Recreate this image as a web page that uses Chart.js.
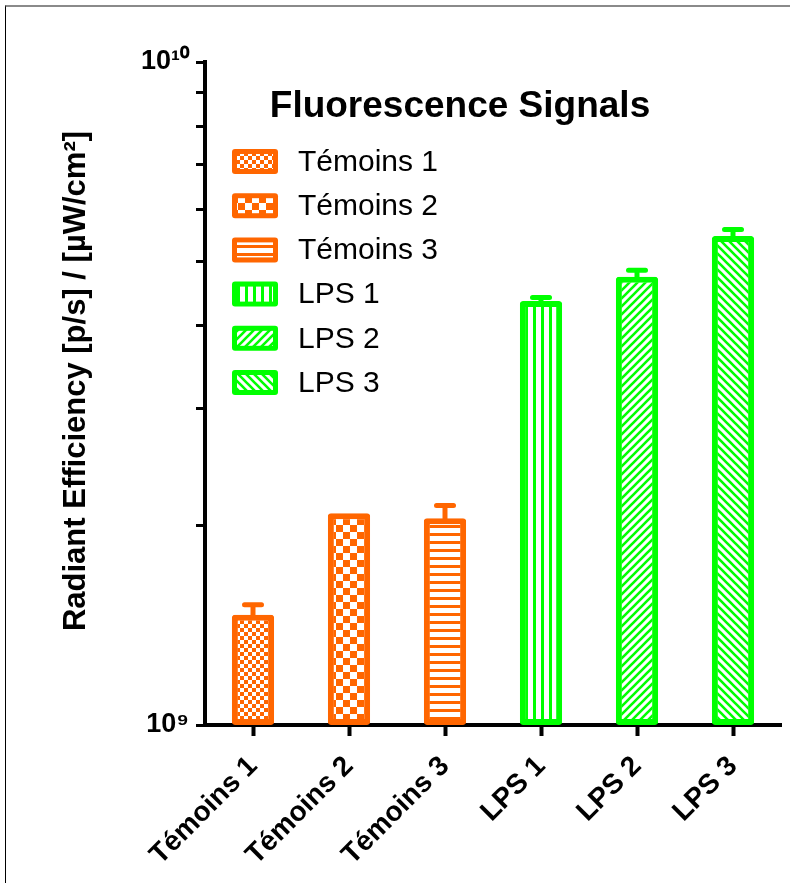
<!DOCTYPE html>
<html><head><meta charset="utf-8">
<script src="https://cdn.jsdelivr.net/npm/chart.js@4"></script>
<style>
html,body{margin:0;padding:0;background:#fff;}
#wrap{position:relative;width:790px;height:883px;overflow:hidden;}
canvas{position:absolute;left:0;top:0;}
#frame{position:absolute;left:5px;top:5px;width:800px;height:900px;border-top:2px solid #8a8a8a;border-left:1px solid #000;box-sizing:border-box;pointer-events:none;}
</style></head>
<body><div id="wrap"><canvas id="c" width="790" height="883"></canvas><div id="frame"></div></div>
<script>
const categories = ['Témoins 1','Témoins 2','Témoins 3','LPS 1','LPS 2','LPS 3'];
const values = [1.466e9, 2.086e9, 2.050e9, 4.36e9, 4.745e9, 5.466e9];
const errors = [0.053e9, 0, 0.093e9, 0.055e9, 0.105e9, 0.124e9];
const groupColors = ['#FF6600','#FF6600','#FF6600','#00FF00','#00FF00','#00FF00'];
const patternKinds = ['checkSmall','checkLarge','hlines','vlines','fdiag','bdiag'];
const yTickValues = [1e9, 2e9, 3e9, 4e9, 5e9, 6e9, 7e9, 8e9, 9e9, 1e10];
const yTickLabels = {9:'10⁹', 10:'10¹⁰'};
const yMin = 1e9, yMax = 1e10;
const chartTitle = 'Fluorescence Signals';
const yTitle = 'Radiant Efficiency [p/s] / [µW/cm²]';

function makePattern(kind, color){
  const c = document.createElement('canvas');
  let s = 8;
  if (kind === 'checkLarge') s = 14;
  c.width = s; c.height = s;
  const g = c.getContext('2d');
  g.fillStyle = '#fff'; g.fillRect(0,0,s,s);
  g.fillStyle = color; g.strokeStyle = color;
  if (kind === 'checkSmall' || kind === 'checkLarge'){
    const h = s/2; g.fillRect(h,0,h,h); g.fillRect(0,h,h,h);
  } else if (kind === 'hlines'){
    g.fillRect(0,5,s,3);
  } else if (kind === 'vlines'){
    g.fillRect(5,0,3,s);
  } else {
    g.lineWidth = 2.6;
    g.beginPath();
    if (kind === 'fdiag'){
      g.moveTo(-2,s+2); g.lineTo(s+2,-2);
      g.moveTo(-2,2); g.lineTo(2,-2);
      g.moveTo(s-2,s+2); g.lineTo(s+2,s-2);
    } else {
      g.moveTo(-2,-2); g.lineTo(s+2,s+2);
      g.moveTo(-2,s-2); g.lineTo(2,s+2);
      g.moveTo(s-2,-2); g.lineTo(s+2,2);
    }
    g.stroke();
  }
  return document.getElementById('c').getContext('2d').createPattern(c,'repeat');
}
const patterns = patternKinds.map((k,i)=>makePattern(k, groupColors[i]));

function rrect(ctx,x,y,w,h,r){
  ctx.beginPath();
  ctx.moveTo(x+r,y); ctx.lineTo(x+w-r,y); ctx.quadraticCurveTo(x+w,y,x+w,y+r);
  ctx.lineTo(x+w,y+h-r); ctx.quadraticCurveTo(x+w,y+h,x+w-r,y+h);
  ctx.lineTo(x+r,y+h); ctx.quadraticCurveTo(x,y+h,x,y+h-r);
  ctx.lineTo(x,y+r); ctx.quadraticCurveTo(x,y,x+r,y); ctx.closePath();
}

const decor = {
  id: 'decor',
  afterDatasetsDraw(chart){
    const ctx = chart.ctx, ys = chart.scales.y, meta = chart.getDatasetMeta(0);
    ctx.save();
    meta.data.forEach((bar,i)=>{
      if (!errors[i]) return;
      const top = ys.getPixelForValue(values[i]+errors[i]);
      ctx.strokeStyle = groupColors[i];
      ctx.lineWidth = 5; ctx.lineCap = 'butt';
      ctx.beginPath(); ctx.moveTo(bar.x, bar.y+3); ctx.lineTo(bar.x, top); ctx.stroke();
      ctx.lineCap = 'round';
      ctx.beginPath(); ctx.moveTo(bar.x-8.5, top); ctx.lineTo(bar.x+8.5, top); ctx.stroke();
    });
    ctx.restore();
  },
  afterDraw(chart){
    const ctx = chart.ctx, a = chart.chartArea;
    ctx.save();
    // title
    ctx.fillStyle = '#000';
    ctx.font = 'bold 37px "Liberation Sans", Arial, sans-serif';
    ctx.textAlign = 'center'; ctx.textBaseline = 'alphabetic';
    ctx.fillText(chartTitle, 460, 117);
    // legend
    ctx.font = '30px "Liberation Sans", Arial, sans-serif';
    ctx.textAlign = 'left'; ctx.textBaseline = 'middle';
    categories.forEach((cat,i)=>{
      const bx = a.left + 27, by = a.top + 87 + i*44.2;
      ctx.fillStyle = groupColors[i];
      rrect(ctx,bx,by,46,25,3); ctx.fill();
      ctx.fillStyle = patterns[i];
      ctx.fillRect(bx+5,by+5,36,15);
      ctx.fillStyle = '#000';
      ctx.fillText(cat, 298, by+13.5);
    });
    // y title
    ctx.translate(85, 381);
    ctx.rotate(-Math.PI/2);
    ctx.font = 'bold 31px "Liberation Sans", Arial, sans-serif';
    ctx.textAlign = 'center'; ctx.textBaseline = 'alphabetic';
    ctx.fillText(yTitle, 0, 0);
    ctx.restore();
  }
};

new Chart(document.getElementById('c'), {
  type: 'bar',
  data: {
    labels: categories,
    datasets: [{
      data: values,
      backgroundColor: patterns,
      borderColor: groupColors,
      borderWidth: 6,
      borderRadius: 3,
      borderSkipped: false,
      barPercentage: 0.44,
      categoryPercentage: 1
    }]
  },
  options: {
    responsive: false,
    animation: false,
    events: [],
    layout: { padding: { top: 62, right: 9, left: 0, bottom: 0 } },
    plugins: { legend: { display: false }, tooltip: { enabled: false }, title: { display: false } },
    scales: {
      x: {
        afterFit: s => { s.height = 158; },
        grid: { display: true, drawOnChartArea: false, offset: false, drawTicks: true, tickLength: 11, tickWidth: 4, tickColor: '#000' },
        border: { display: true, width: 4, color: '#000' },
        ticks: { color: '#000', font: { family: '"Liberation Sans", Arial, sans-serif', size: 28, weight: 'bold' }, maxRotation: 45, minRotation: 45, padding: 14, autoSkip: false }
      },
      y: {
        type: 'logarithmic',
        min: yMin, max: yMax,
        afterFit: s => { s.width = 205; },
        afterBuildTicks: s => { s.ticks = yTickValues.map(v => ({ value: v, major: false })); },
        grid: { display: true, drawOnChartArea: false, drawTicks: true, tickLength: 9, tickWidth: 3, tickColor: '#000' },
        border: { display: true, width: 4, color: '#000' },
        ticks: {
          color: '#000', autoSkip: false, padding: 7,
          font: { family: '"Liberation Sans", Arial, sans-serif', size: 27, weight: 'bold' },
          callback: v => { const e = Math.round(Math.log10(v)); return Math.abs(Math.log10(v)-e) < 1e-6 && yTickLabels[e] ? yTickLabels[e] : ''; }
        }
      }
    }
  },
  plugins: [decor]
});
</script>
</body></html>
